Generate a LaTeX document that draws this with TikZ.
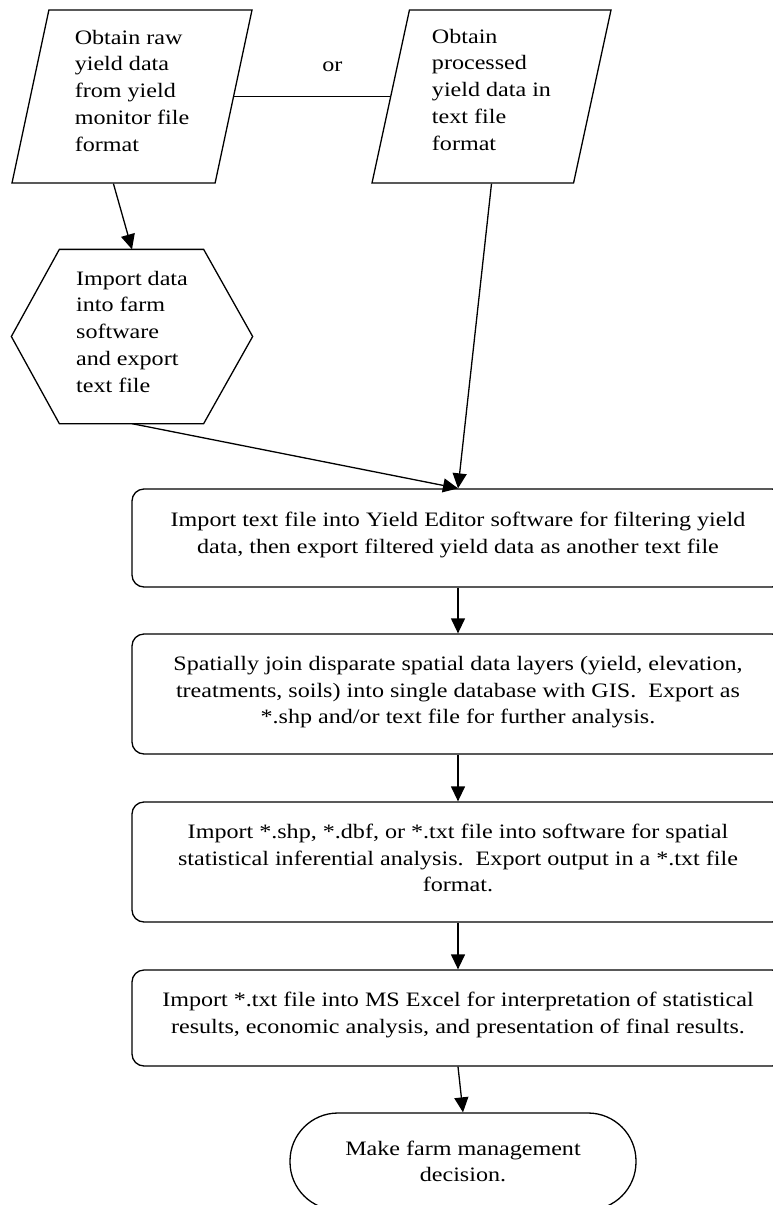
\documentclass[tikz,border=0pt]{standalone}
\usepackage{fontspec}
\setmainfont{Liberation Serif}[FakeStretch=1.175]
\usetikzlibrary{arrows.meta}
\usetikzlibrary{shapes.geometric}
\usetikzlibrary{calc}

\newcommand{\lift}[1]{\rule[-#1]{0pt}{0pt}}

\tikzset{
  inputbox/.style={draw, trapezium, trapezium left angle=74.5, trapezium right angle=105.5,
    trapezium stretches body, minimum width=240pt, minimum height=173pt, inner sep=0pt, align=left},
  stepbox/.style={draw, rectangle, rounded corners=12pt, minimum width=652pt, inner sep=0pt, align=center},
  endbox/.style={draw, rectangle, rounded corners=48pt, minimum width=346pt, minimum height=97pt, inner sep=0pt, align=center},
  flow/.style={-{Triangle[length=15pt,width=14pt]}}
}

\begin{document}
\begin{tikzpicture}[x=1pt, y=-1pt, line width=1.3pt, font=\fontsize{20.5}{26.7}\selectfont]
		\useasboundingbox (0,0) rectangle (773,1205);

		%Eingangsdaten
		\node[inputbox] (raw) at (132,96.5) {Obtain raw\\yield data\\from yield\\monitor file\\format\lift{12pt}};
		\node[inputbox, minimum width=239pt] (proc) at (491.5,96.5) {Obtain\\processed\\yield data in\\text file\\format\lift{14pt}};
		\draw (raw.right side) -- (proc.left side) node [pos=0.63, yshift=30pt] {or};

		%Sechseck
		\node[minimum width=240pt, minimum height=173pt, inner sep=0pt, align=left] (imp) at (132,336.5)
			{Import data\\into farm\\software\\and export\\text file\lift{10pt}};
		\draw (imp.west) -- ($(imp.north west)+(48,0)$) -- ($(imp.north east)+(-49,0)$) -- (imp.east)
			-- ($(imp.south east)+(-49,0)$) -- ($(imp.south west)+(48,0)$) -- cycle;

		%Arbeitsschritte
		\node[stepbox, minimum height=98pt] (edit) at (458,538)
			{Import text file into Yield Editor software for filtering yield\\data, then export filtered yield data as another text file\lift{10pt}};
		\node[stepbox, minimum height=120pt] (join) at (458,694)
			{Spatially join disparate spatial data layers (yield, elevation,\\treatments, soils) into single database with GIS.\ \ Export as\\*.shp and/or text file for further analysis.\lift{8pt}};
		\node[stepbox, minimum height=120pt] (stat) at (458,862)
			{Import *.shp, *.dbf, or *.txt file into software for spatial\\statistical inferential analysis.\ \ Export output in a *.txt file\\format.\lift{8pt}};
		\node[stepbox, minimum height=96pt] (excel) at (458,1018)
			{Import *.txt file into MS Excel for interpretation of statistical\\results, economic analysis, and presentation of final results.\lift{10pt}};

		%Ende
		\node[endbox] (decide) at (463,1161.5) {Make farm management\\decision.};

		%Pfeile
		\draw[flow] (raw.bottom side) -- (imp.north);
		\draw[flow] (imp.south) -- (edit.north);
		\draw[flow] (proc.south) -- (edit.north);
		\draw[flow] (edit.south) -- (join.north);
		\draw[flow] (join.south) -- (stat.north);
		\draw[flow] (stat.south) -- (excel.north);
		\draw[flow] (excel.south) -- (decide.north);
	\end{tikzpicture}
\end{document}
